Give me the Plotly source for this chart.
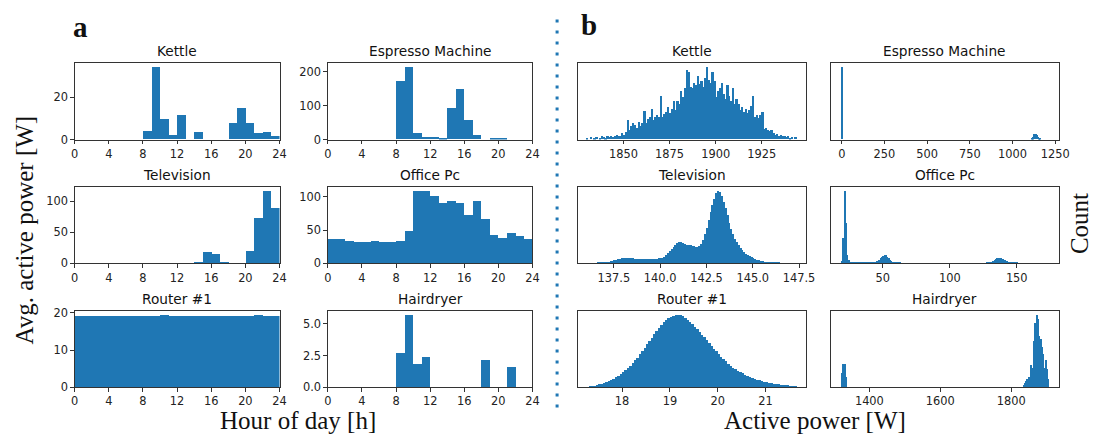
import numpy as np
import plotly.graph_objects as go

BLUE = "#1f77b4"
SANS = "DejaVu Sans"
SERIF = "Liberation Serif"
W, H = 1105, 441

# ---------------- a: average active power per hour of day [W] ----------------
hours = list(range(24))
kettle_hourly = [0, 0, 0, 0, 0, 0, 0, 0, 3.8, 34.5, 9.5, 2.0, 11.3, 0, 3.5, 0,
                 0, 0, 7.7, 14.7, 7.7, 3.0, 3.5, 1.5]
espresso_hourly = [0, 0, 0, 0, 0, 0, 0, 0, 171, 214, 18, 7, 7, 4, 93, 148,
                   56, 13, 0, 4, 4, 0, 0, 0]
television_hourly = [0, 0, 0, 0, 0, 0, 0, 0, 0, 0, 0, 0, 0, 0, 2, 18,
                     15, 2.5, 0, 0, 20, 73, 117, 88.5]
office_pc_hourly = [36, 36, 33, 31.7, 31.7, 33, 31.7, 31.7, 33, 49, 109, 108,
                    100.5, 90, 93, 90, 72.7, 93, 67, 42, 37.5, 45, 40.5, 36]
router_hourly = [19.3, 19.3, 19.3, 19.3, 19.3, 19.3, 19.3, 19.3, 19.3, 19.3, 19.55, 19.3,
                 19.3, 19.3, 19.3, 19.3, 19.3, 19.3, 19.3, 19.3, 19.3, 19.55, 19.3, 19.3]
hairdryer_hourly = [0, 0, 0, 0, 0, 0, 0, 0, 2.68, 5.74, 1.84, 2.37, 0, 0, 0, 0,
                    0, 0, 2.14, 0, 0, 1.61, 0, 0]

# ---------------- b: histograms of active power (relative counts) ----------------
kettle_bin_start, kettle_bin_width = 1830.0, 1.0
kettle_counts = [2, 0, 3, 0, 2, 3, 0, 2, 4, 3, 2, 4, 3, 5, 3, 4, 6, 5, 4,
                 8, 6, 10, 26, 12, 18, 22, 20, 16, 24, 18, 22,
                 39, 22, 28, 30, 41, 26, 30, 34, 31, 60, 30, 35,
                 38, 44, 36, 42, 53, 40, 52, 48, 66, 58, 70, 96,
                 93, 72, 70, 78, 74, 87, 76, 80, 72, 84, 100, 82,
                 78, 92, 80, 58, 66, 70, 78, 62, 56, 74, 60, 52,
                 70, 48, 55, 49, 40, 44, 38, 42, 36, 40, 46, 60,
                 30, 33, 29, 34, 37, 14, 15, 12, 11, 13, 8, 6,
                 7, 5, 6, 4, 5, 3, 4, 2, 3, 0, 3]

espresso_bin_width = 5.0
espresso_bin_centers = [2.5, 1112.5, 1117.5, 1122.5, 1127.5, 1132.5, 1137.5,
                        1142.5, 1147.5, 1152.5, 1157.5, 1162.5]
espresso_counts = [100, 1.0, 2.5, 4.5, 6.5, 7.6, 7.2, 5.5, 3.5, 1.8, 0.8, 0.3]

television_bin_start, television_bin_width = 136.1, 0.1
television_counts = [0.1, 0.1, 0.2, 0.2, 0.3, 0.4, 0.5, 0.7, 1.0,
                     1.3, 1.7, 2.1, 2.6, 3.2, 4.0, 4.6, 5.3, 6.0, 6.8,
                     7.4, 7.6, 7.4, 7.0, 6.8, 6.7, 6.5, 6.4, 6.3, 6.4,
                     6.2, 6.3, 6.4, 6.3, 6.2, 6.4, 6.3, 6.5, 6.4, 6.6,
                     7.0, 7.8, 9.0, 11.0, 13.5, 16.5, 19.5, 22.5, 25.0, 27.5,
                     29.0, 29.5, 28.0, 26.5, 25.8, 25.2, 24.8, 24.0, 23.2, 22.5,
                     22.0, 23.5, 27.0, 32.0, 40.0, 49.0, 59.0, 70.0, 80.0, 89.0,
                     97.0, 100, 98.0, 93.0, 85.0, 76.0, 66.0, 56.0, 47.0, 40.0,
                     34.0, 29.0, 25.0, 21.0, 18.0, 15.0, 13.0, 11.0, 9.5, 8.0,
                     6.8, 5.7, 4.7, 3.9, 3.2, 2.6, 2.1, 1.7, 1.4, 1.1,
                     0.9, 0.7, 0.6, 0.5, 0.4, 0.35, 0.3, 0.25, 0.2, 0.2,
                     0.15, 0.1, 0.1, 0.1]

office_pc_bin_start, office_pc_bin_width = 19.0, 1.0
office_pc_counts = [3, 35, 100, 55, 12, 4, 2,
                    0.8, 0.7, 0.6, 0.6, 0.5, 0.5, 0.5, 0.5, 0.5, 0.5, 0.5, 0.5, 0.6, 0.6, 0.7, 0.7,
                    0.8, 1.2, 1.8, 2.6, 3.6, 5.0, 6.8, 8.8, 10.6, 11.5, 10.8, 9.0, 6.8, 4.8,
                    3.2, 2.0, 1.3, 0.8, 0.5,
                    0.4, 0.4, 0.35, 0.35, 0.3, 0.3, 0.3, 0.3, 0.3, 0.3,
                    0.25, 0.25, 0.25, 0.25, 0.25, 0.25, 0.25, 0.25, 0.25, 0.25,
                    0.25, 0.25, 0.25, 0.25, 0.25, 0.25, 0.25, 0.25, 0.25, 0.25,
                    0.2, 0.2, 0.2, 0.2, 0.2, 0.2, 0.2, 0.2, 0.2, 0.2,
                    0.2, 0.2, 0.2, 0.2, 0.2, 0.2, 0.2, 0.2, 0.2, 0.2,
                    0.2, 0.2, 0.2, 0.2, 0.2, 0.2, 0.2, 0.2, 0.2, 0.2,
                    0.2, 0.2, 0.25, 0.25, 0.3, 0.35, 0.45,
                    0.6, 1.0, 1.6, 2.4, 3.4, 4.6, 5.8, 6.7, 7.2, 7.3,
                    6.9, 6.1, 5.0, 3.9, 2.9, 2.1, 1.5, 1.0, 0.7, 0.5,
                    0.45, 0.4, 0.4, 0.35, 0.35, 0.3, 0.3, 0.3, 0.3, 0.25, 0.25, 0.25, 0.25,
                    0.2, 0.2, 0.2, 0.2, 0.2, 0.15, 0.15, 0.15, 0.15, 0.1, 0.1, 0.1, 0.1]

router_bin_start, router_bin_width = 17.3, 0.05
router_counts = [1.0, 1.5, 2.2, 3.0, 4.0, 5.2, 6.4, 7.7, 9.0, 10.4,
                 11.8, 13.6, 15.6, 18.0, 20.6, 23.4, 26.4, 29.6, 33.0, 37.0,
                 41.0, 45.3, 49.8, 54.5, 59.0, 63.6, 68.5, 73.2, 77.6, 81.8,
                 86.0, 89.5, 92.6, 95.0, 97.0, 98.6, 99.7, 100, 99.2, 97.6,
                 95.6, 93.0, 90.2, 87.0, 83.6, 80.0, 76.4, 72.6, 69.0, 65.0,
                 61.0, 57.0, 53.0, 49.4, 45.8, 42.2, 38.8, 35.6, 32.6, 29.8,
                 27.2, 25.0, 23.0, 21.0, 19.2, 17.6, 16.0, 14.6, 13.2, 12.0,
                 10.8, 9.8, 8.9, 8.0, 7.2, 6.5, 5.8, 5.2, 4.6, 4.1,
                 3.7, 3.3, 2.9, 2.6, 2.3, 2.0, 1.8]

hairdryer_bin_width = 3.0
hairdryer_bin_centers = [1322.5, 1325.5, 1328.5, 1331.5, 1334.5,
                         1835.5, 1838.5, 1841.5, 1844.5, 1847.5, 1850.5, 1853.5, 1856.5,
                         1859.5, 1862.5, 1865.5, 1868.5, 1871.5, 1874.5, 1877.5, 1880.5,
                         1883.5, 1886.5, 1889.5, 1892.5, 1895.5, 1898.5, 1901.5, 1904.5]
hairdryer_counts = [20, 32, 25, 32, 14,
                    3, 6, 9, 11, 9, 14, 13, 31, 22, 26, 64, 88, 100, 94, 71, 60,
                    66, 55, 46, 26, 24, 37, 25, 12]


def centers(start, width, counts):
    return start + width * (np.arange(len(counts)) + 0.5)


hour_centers = [h + 0.5 for h in hours]
hour_ticks = [0, 4, 8, 12, 16, 20, 24]

panels = [
    # title, row, col, x, y, bar width, x range, x ticks, y dtick, y fmt, show y labels
    ("Kettle", 0, 0, hour_centers, kettle_hourly, 1, [0, 24], hour_ticks, 20, None, True),
    ("Espresso Machine", 0, 1, hour_centers, espresso_hourly, 1, [0, 24], hour_ticks, 100, None, True),
    ("Television", 1, 0, hour_centers, television_hourly, 1, [0, 24], hour_ticks, 50, None, True),
    ("Office Pc", 1, 1, hour_centers, office_pc_hourly, 1, [0, 24], hour_ticks, 50, None, True),
    ("Router #1", 2, 0, hour_centers, router_hourly, 1, [0, 24], hour_ticks, 10, None, True),
    ("Hairdryer", 2, 1, hour_centers, hairdryer_hourly, 1, [0, 24], hour_ticks, 2.5, ".1f", True),
    ("Kettle", 0, 2, centers(kettle_bin_start, kettle_bin_width, kettle_counts), kettle_counts,
     kettle_bin_width, [1825.4, 1949.1], [1850, 1875, 1900, 1925], None, None, False),
    ("Espresso Machine", 0, 3, espresso_bin_centers, espresso_counts, espresso_bin_width,
     [-63.5, 1270.8], [0, 250, 500, 750, 1000, 1250], None, None, False),
    ("Television", 1, 2, centers(television_bin_start, television_bin_width, television_counts),
     television_counts, television_bin_width, [135.57, 147.89], [137.5, 140, 142.5, 145, 147.5],
     None, None, False),
    ("Office Pc", 1, 3, centers(office_pc_bin_start, office_pc_bin_width, office_pc_counts),
     office_pc_counts, office_pc_bin_width, [11.2, 181.4], [50, 100, 150], None, None, False),
    ("Router #1", 2, 2, centers(router_bin_start, router_bin_width, router_counts), router_counts,
     router_bin_width, [17.08, 21.85], [18, 19, 20, 21], None, None, False),
    ("Hairdryer", 2, 3, hairdryer_bin_centers, hairdryer_counts, hairdryer_bin_width,
     [1291.5, 1934.4], [1400, 1600, 1800], None, None, False),
]

# axes boxes in pixels (left, right) / (top, bottom)
cols_px = [(71.7, 279.3), (328.3, 535.7), (582.0, 813.3), (838.3, 1069.3)]
rows_px = [(60.0, 138.3), (187.3, 265.7), (314.5, 393.0)]

fig = go.Figure()
layout = {}
annotations = []

tick_font = dict(family=SANS, size=11.4, color="#222")
for i, (title, r, c, xs, ys, bw, xr, xticks, ydt, yfmt, ylab) in enumerate(panels):
    n = i + 1
    xa = "x" if n == 1 else f"x{n}"
    ya = "y" if n == 1 else f"y{n}"
    fig.add_trace(go.Bar(x=list(xs), y=ys, width=bw, marker=dict(color=BLUE, line=dict(width=0)),
                         xaxis=xa, yaxis=ya, showlegend=False, hoverinfo="x+y"))
    x0, x1 = cols_px[c]
    t0, t1 = rows_px[r]
    xdom = [x0 / W, x1 / W]
    ydom = [1 - t1 / H, 1 - t0 / H]
    fmt_x = ".1f" if title == "Television" and not ylab else None
    common = dict(showline=True, mirror=True, linecolor="#333", linewidth=1,
                  showgrid=False, zeroline=False, ticks="outside", ticklen=3.5,
                  tickwidth=0.8, tickcolor="#333", tickfont=tick_font)
    xkey = "xaxis" if n == 1 else f"xaxis{n}"
    ykey = "yaxis" if n == 1 else f"yaxis{n}"
    layout[xkey] = dict(domain=xdom, anchor=ya, range=xr, tickmode="array", tickvals=xticks,
                        tickformat=fmt_x, **common)
    ymax = max(ys) * 1.05
    ycfg = dict(domain=ydom, anchor=xa, range=[0, ymax], **common)
    if ylab:
        ycfg.update(tickmode="linear", tick0=0, dtick=ydt)
        if yfmt:
            ycfg["tickformat"] = yfmt
    else:
        ycfg.update(showticklabels=False, ticks="")
    layout[ykey] = ycfg
    annotations.append(dict(text=title, x=(xdom[0] + xdom[1]) / 2, y=ydom[1], xref="paper",
                            yref="paper", xanchor="center", yanchor="bottom", yshift=2,
                            showarrow=False, font=dict(family=SANS, size=13.7, color="#111")))

big = dict(family=SERIF, size=25, color="#111")
annotations += [
    dict(text="<b>a</b>", x=78 / W, y=1 - 23 / H, xanchor="center", yanchor="middle",
         font=dict(family=SERIF, size=29, color="#111")),
    dict(text="<b>b</b>", x=593 / W, y=1 - 21 / H, xanchor="center", yanchor="middle",
         font=dict(family=SERIF, size=29, color="#111")),
    dict(text="Avg. active power [W]", x=21 / W, y=1 - 231 / H, textangle=-90,
         xanchor="center", yanchor="middle", font=big),
    dict(text="Hour of day [h]", x=298.5 / W, y=1 - 427 / H, xanchor="center",
         yanchor="middle", font=big),
    dict(text="Active power [W]", x=822 / W, y=1 - 427 / H, xanchor="center",
         yanchor="middle", font=big),
    dict(text="Count", x=1091 / W, y=1 - 225 / H, textangle=-90, xanchor="center",
         yanchor="middle", font=big),
]
for a in annotations:
    a.setdefault("xref", "paper")
    a.setdefault("yref", "paper")
    a.setdefault("showarrow", False)

# dotted separator between the two panels
shapes = [dict(type="line", xref="paper", yref="paper", x0=560.7 / W, x1=560.7 / W,
               y0=1 - 15 / H, y1=1 - 414 / H,
               line=dict(color=BLUE, width=3, dash="3px,8px"))]

fig.update_layout(width=W, height=H, margin=dict(l=0, r=0, t=0, b=0),
                  paper_bgcolor="white", plot_bgcolor="white", bargap=0,
                  annotations=annotations, shapes=shapes, showlegend=False, **layout)
fig.write_html("out.html")
